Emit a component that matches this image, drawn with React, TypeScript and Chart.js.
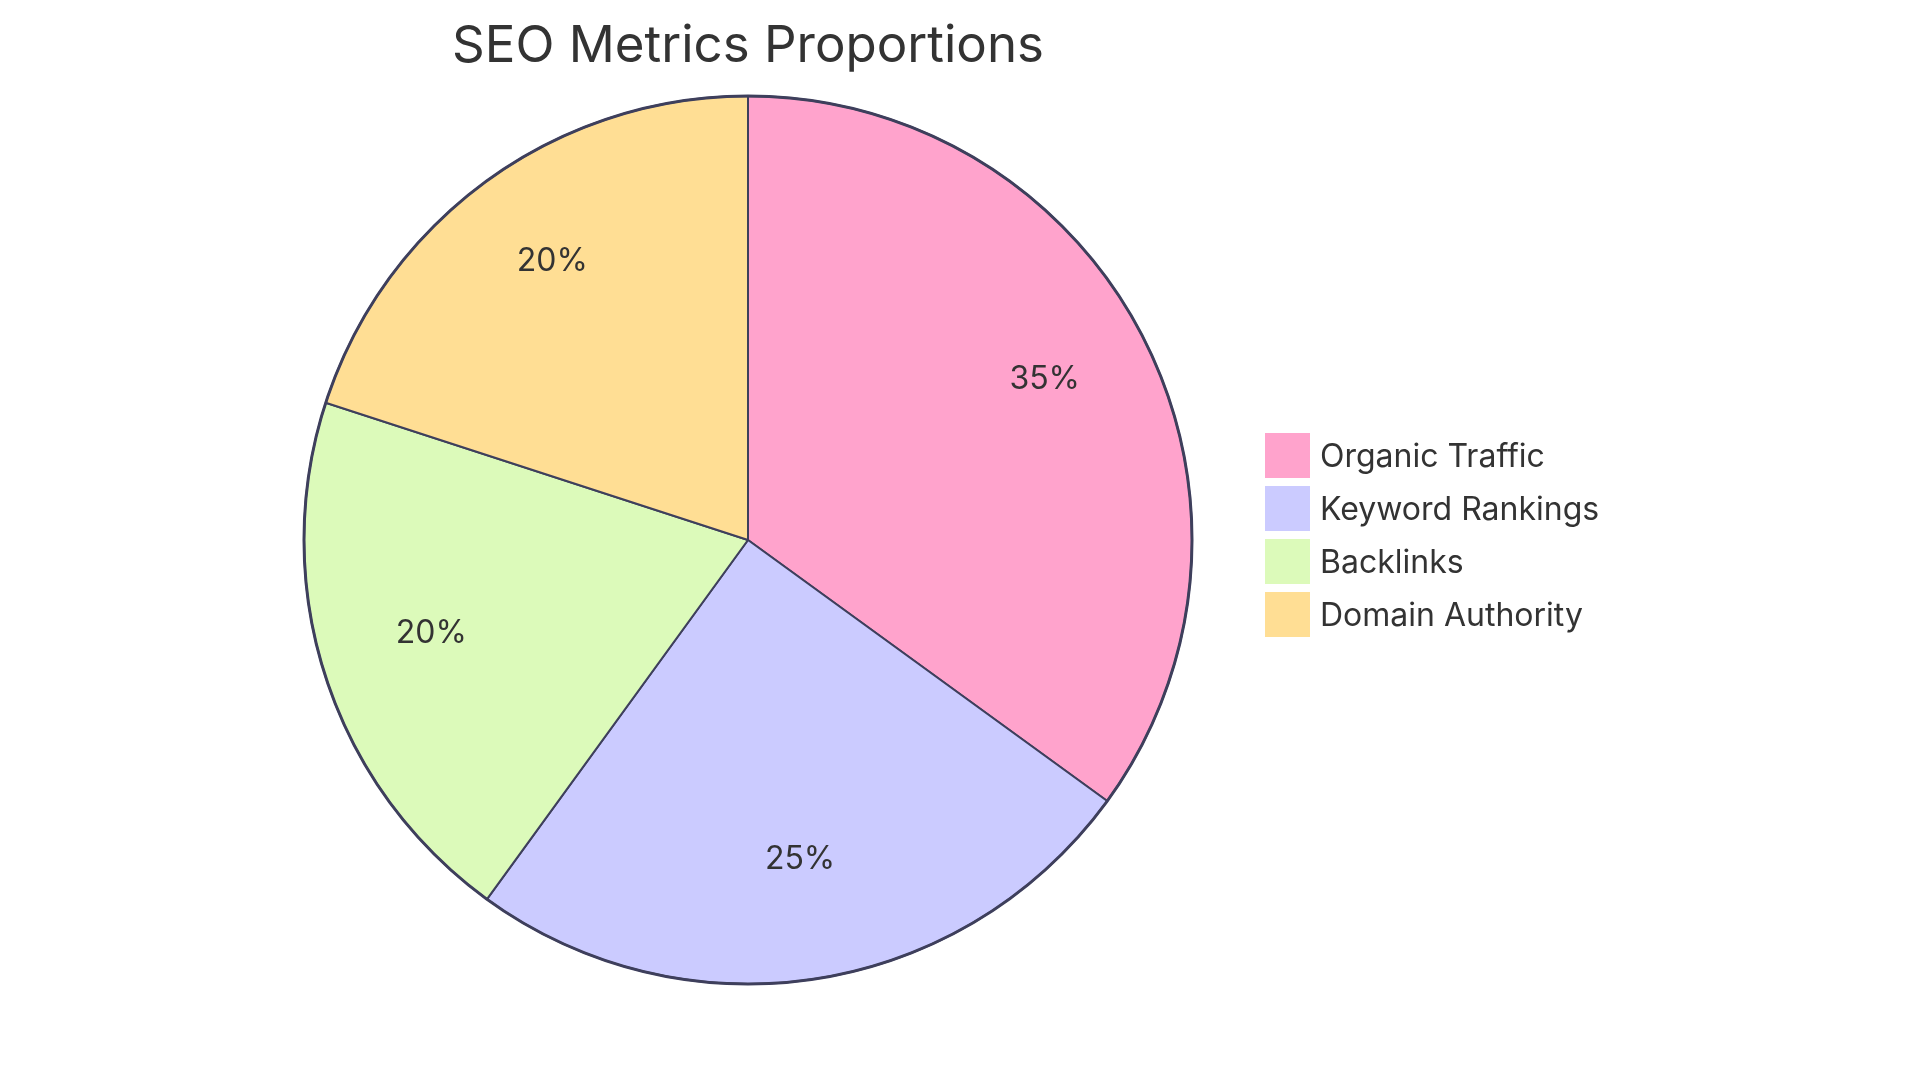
import React, { useEffect, useRef } from "react";
import { Chart, registerables } from "chart.js";

Chart.register(...registerables);

const titleText = "SEO Metrics Proportions";
const categories = ["Organic Traffic", "Keyword Rankings", "Backlinks", "Domain Authority"];
const values = [35, 25, 20, 20];
const colors = ["#FFA3CC", "#CBCBFF", "#DCFABA", "#FFDE94"];
const strokeColor = "#3e3f5c";
const textColor = "#333333";
const fontFamily = "Inter, 'Noto Sans', sans-serif";

const overlayPlugin = {
  id: "overlay",
  afterDatasetsDraw(chart: any) {
    const ctx = chart.ctx as CanvasRenderingContext2D;
    const meta = chart.getDatasetMeta(0);
    const data = chart.data.datasets[0].data as number[];
    const total = data.reduce((a, b) => a + b, 0);
    ctx.save();
    // outer circle stroke
    if (meta.data.length) {
      const p = meta.data[0].getProps(["x", "y", "outerRadius"], true);
      ctx.beginPath();
      ctx.arc(p.x, p.y, p.outerRadius, 0, Math.PI * 2);
      ctx.lineWidth = 3;
      ctx.strokeStyle = strokeColor;
      ctx.stroke();
    }
    // slice labels
    ctx.fillStyle = textColor;
    ctx.font = `32px ${fontFamily}`;
    ctx.textAlign = "center";
    ctx.textBaseline = "alphabetic";
    meta.data.forEach((el: any, i: number) => {
      const p = el.getProps(["x", "y", "startAngle", "endAngle", "outerRadius"], true);
      const mid = (p.startAngle + p.endAngle) / 2;
      const r = p.outerRadius * 0.75;
      const pct = Math.round((data[i] / total) * 100);
      ctx.fillText(`${pct}%`, p.x + Math.cos(mid) * r, p.y + Math.sin(mid) * r);
    });
    // title
    if (meta.data.length) {
      const p = meta.data[0].getProps(["x"], true);
      ctx.font = `51px ${fontFamily}`;
      ctx.fillText(titleText, p.x, 62);
    }
    // legend
    ctx.textAlign = "left";
    ctx.font = `32px ${fontFamily}`;
    (chart.data.labels as string[]).forEach((lab: string, i: number) => {
      const top = 433 + i * 53;
      const bg = (chart.data.datasets[0].backgroundColor as string[])[i];
      ctx.fillStyle = bg;
      ctx.fillRect(1265, top, 45, 45);
      ctx.fillStyle = textColor;
      ctx.fillText(lab, 1320, top + 34);
    });
    ctx.restore();
  },
};

export default function App() {
  const ref = useRef<HTMLCanvasElement | null>(null);
  useEffect(() => {
    if (!ref.current) return;
    const chart = new Chart(ref.current, {
      type: "pie",
      data: {
        labels: categories,
        datasets: [
          {
            data: values,
            backgroundColor: colors,
            borderColor: strokeColor,
            borderWidth: 2,
          },
        ],
      },
      options: {
        responsive: false,
        animation: false,
        devicePixelRatio: 1,
        events: [],
        radius: 444,
        layout: { padding: { left: 0, right: 424, top: 0, bottom: 0 } },
        plugins: {
          legend: { display: false },
          title: { display: false },
          tooltip: { enabled: false },
        },
      } as any,
      plugins: [overlayPlugin],
    });
    return () => chart.destroy();
  }, []);
  return (
    <div style={{ position: "fixed", left: 0, top: 0, width: 1920, height: 1080, background: "#fff" }}>
      <canvas ref={ref} width={1920} height={1080} style={{ width: 1920, height: 1080, display: "block" }} />
    </div>
  );
}
